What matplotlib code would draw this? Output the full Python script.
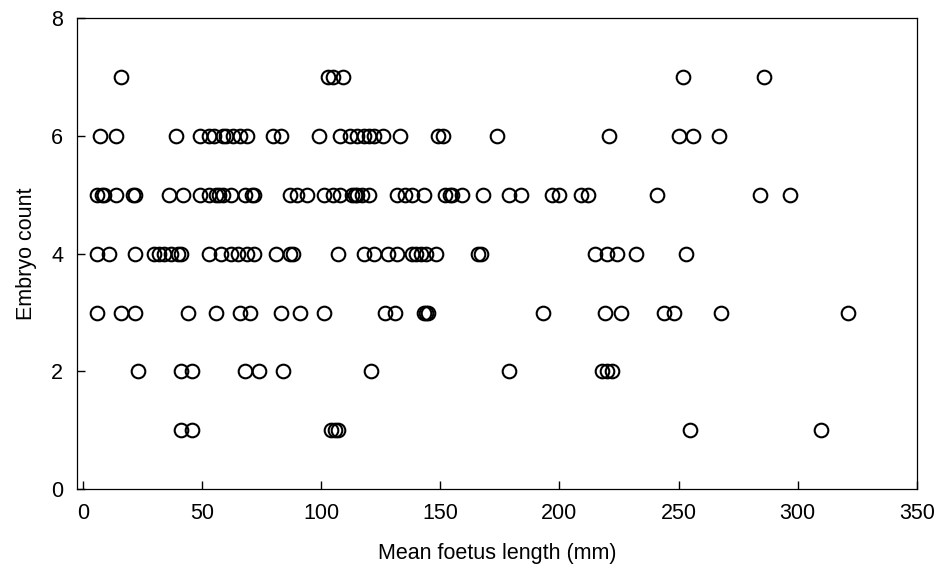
import matplotlib
matplotlib.use("Agg")
from matplotlib import pyplot as plt

plt.rcParams['font.family'] = ['Liberation Sans', 'DejaVu Sans']

# mean foetus length (mm) for each embryo count
len_1 = [41, 46, 104, 106, 107, 255, 310]
len_2 = [23, 41, 46, 68, 74, 84, 121, 179, 218, 220, 222]
len_3 = [6, 16, 22, 44, 56, 66, 70, 83, 91, 101, 127, 131, 143, 144, 145,
         193, 219, 226, 244, 248, 268, 321]
len_4 = [6, 11, 22, 30, 32, 34, 37, 40, 41, 53, 58, 62, 65, 69, 72, 81, 87, 88,
         107, 118, 122, 128, 132, 138, 140, 142, 144, 148, 166, 167,
         215, 220, 224, 232, 253]
len_5 = [6, 8, 9, 14, 21, 22, 36, 42, 49, 53, 56, 57, 59, 62, 68, 71, 72,
         87, 90, 94, 101, 105, 108, 113, 114, 115, 117, 120, 132, 135, 138, 143,
         152, 154, 155, 159, 168, 179, 184, 197, 200, 209, 212, 241, 284, 297]
len_6 = [7, 14, 39, 49, 53, 55, 59, 60, 63, 66, 69, 80, 83, 99,
         108, 112, 115, 118, 120, 122, 126, 133, 149, 151, 174, 221, 250, 256, 267]
len_7 = [16, 103, 105, 109, 252, 286]

counts = [1, 2, 3, 4, 5, 6, 7]
lengths = [len_1, len_2, len_3, len_4, len_5, len_6, len_7]

xticks = [0, 50, 100, 150, 200, 250, 300, 350]
yticks = [0, 2, 4, 6, 8]

fig = plt.figure(figsize=(9.5, 5.7), dpi=100)
ax = fig.add_axes([0.081, 0.142, 0.884, 0.826])

for c, xs in zip(counts, lengths):
    ax.plot(xs, [c] * len(xs), "o", ms=9.8, mfc="none", mec="black", mew=1.5)

ax.set_xlim(-2.5, 350)
ax.set_ylim(0, 8)
ax.set_xticks(xticks)
ax.set_yticks(yticks)
ax.tick_params(direction="in", length=6, width=1, labelsize=15.5, pad=10)
for s in ax.spines.values():
    s.set_linewidth(0.9)

ax.set_xlabel("Mean foetus length (mm)", fontsize=15.5, labelpad=14)
ax.set_ylabel("Embryo count", fontsize=15.5, labelpad=10)

fig.savefig("out.png", dpi=100)
